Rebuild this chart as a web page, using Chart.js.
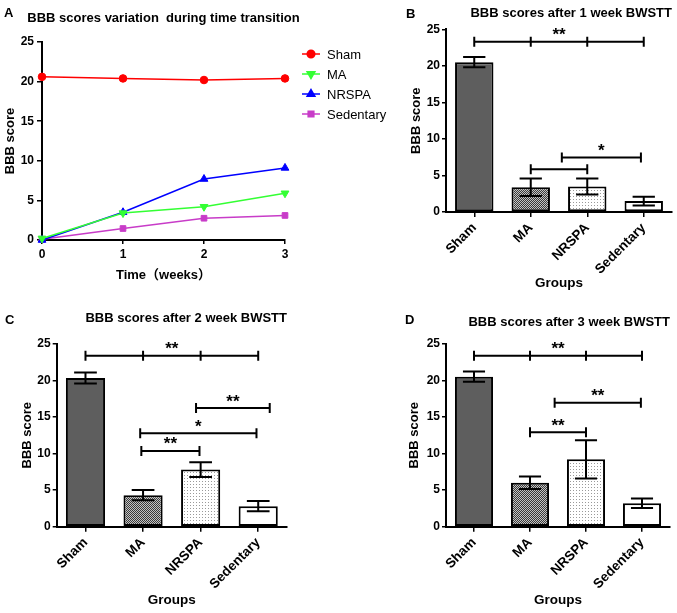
<!DOCTYPE html>
<html>
<head>
<meta charset="utf-8">
<script src="https://cdn.jsdelivr.net/npm/chart.js@4.4.1/dist/chart.umd.min.js"></script>
<style>
  body { margin: 0; background: #fff; }
  #wrap { position: relative; width: 677px; height: 613px; }
  canvas { position: absolute; }
  .tag { position: absolute; font: bold 13px 'Liberation Sans', Arial, sans-serif; line-height: 13px; color: #000; }
</style>
</head>
<body>
<div id="wrap">
  <canvas id="chartA" width="395" height="300" style="left:0;top:0"></canvas>
  <canvas id="chartB" width="282" height="300" style="left:395px;top:0"></canvas>
  <canvas id="chartC" width="340" height="313" style="left:0;top:300px"></canvas>
  <canvas id="chartD" width="282" height="313" style="left:395px;top:300px"></canvas>
  <div class="tag" style="left:4px;top:6px">A</div>
  <div class="tag" style="left:406px;top:7px">B</div>
  <div class="tag" style="left:5px;top:313px">C</div>
  <div class="tag" style="left:405px;top:313px">D</div>
</div>
<script>
const groups = ['Sham', 'MA', 'NRSPA', 'Sedentary'];
const weeks = [0, 1, 2, 3];

// panel A, mean score per week
const shamTime = [20.6, 20.4, 20.2, 20.4];
const maTime = [0.2, 3.4, 4.2, 5.9];
const nrspaTime = [0, 3.5, 7.7, 9.1];
const sedentaryTime = [0.1, 1.45, 2.75, 3.1];

// panels B-D, mean and error per group
const week1Means = [20.5, 3.4, 3.5, 1.5];
const week1Errors = [0.7, 1.2, 1.1, 0.6];
const week2Means = [20.3, 4.3, 7.8, 2.8];
const week2Errors = [0.75, 0.7, 1.0, 0.7];
const week3Means = [20.5, 6.0, 9.2, 3.2];
const week3Errors = [0.7, 0.85, 2.6, 0.65];

// significance brackets: [from group, to group, score, label, inner ticks]
const week1Marks = [[0, 3, 23.3, '**', [1, 2]], [1, 2, 5.85, ''], [1.55, 2.95, 7.45, '*']];
const week2Marks = [[0, 3, 23.35, '**', [1, 2]], [1.92, 3.2, 16.2, '**'], [0.95, 2.97, 12.75, '*'], [0.97, 1.98, 10.35, '**']];
const week3Marks = [[0, 3, 23.35, '**', [1, 2]], [1.44, 2.98, 16.95, '**'], [1, 2, 12.9, '**']];

const FONT = "'Liberation Sans', Arial, 'Noto Sans CJK SC', sans-serif";
Chart.defaults.font.family = FONT;
Chart.defaults.color = '#000';

function makePattern(size, bg, fg, cells) {
    const c = document.createElement('canvas');
    c.width = c.height = size;
    const g = c.getContext('2d');
    g.fillStyle = bg;
    g.fillRect(0, 0, size, size);
    g.fillStyle = fg;
    cells.forEach(([a, b]) => g.fillRect(a, b, 1, 1));
    return g.createPattern(c, 'repeat');
}

const barFills = [
    '#5e5e5e',
    makePattern(2, '#c4c4c4', '#3a3a3a', [[0, 0], [1, 1]]),
    makePattern(3, '#ffffff', '#9a9a9a', [[1, 1]]),
    '#ffffff'
];

const errorBars = {
    id: 'errorBars',
    afterDatasetsDraw(chart, args, opts) {
        const {ctx, scales: {y}} = chart;
        const means = chart.data.datasets[0].data;
        ctx.save();
        ctx.strokeStyle = '#000';
        ctx.lineWidth = 2;
        chart.getDatasetMeta(0).data.forEach((bar, i) => {
            const hi = y.getPixelForValue(means[i] + opts.errors[i]);
            const lo = y.getPixelForValue(means[i] - opts.errors[i]);
            const cap = bar.width * 0.29;
            ctx.beginPath();
            ctx.moveTo(bar.x, hi); ctx.lineTo(bar.x, lo);
            ctx.moveTo(bar.x - cap, hi); ctx.lineTo(bar.x + cap, hi);
            ctx.moveTo(bar.x - cap, lo); ctx.lineTo(bar.x + cap, lo);
            ctx.stroke();
        });
        ctx.restore();
    }
};

const brackets = {
    id: 'brackets',
    afterDatasetsDraw(chart, args, opts) {
        const {ctx, scales: {x, y}} = chart;
        ctx.save();
        ctx.strokeStyle = '#000';
        ctx.fillStyle = '#000';
        ctx.lineWidth = 2;
        ctx.font = 'bold 17px ' + FONT;
        ctx.textAlign = 'center';
        ctx.textBaseline = 'alphabetic';
        opts.marks.forEach(([a, b, v, label, inner]) => {
            const x1 = x.getPixelForValue(a), x2 = x.getPixelForValue(b), py = y.getPixelForValue(v);
            ctx.beginPath();
            ctx.moveTo(x1, py); ctx.lineTo(x2, py);
            [a, b].concat(inner || []).forEach(k => {
                const px = x.getPixelForValue(k);
                ctx.moveTo(px, py - 5); ctx.lineTo(px, py + 5);
            });
            ctx.stroke();
            if (label) ctx.fillText(label, (x1 + x2) / 2, py - 1.5);
        });
        ctx.restore();
    }
};

// title of panel A is wider than its plot, so draw it centred without squeezing
const wideTitle = {
    id: 'wideTitle',
    afterDraw(chart, args, opts) {
        const {ctx, chartArea} = chart;
        ctx.save();
        ctx.font = 'bold 13px ' + FONT;
        ctx.fillStyle = '#000';
        ctx.textAlign = 'center';
        ctx.textBaseline = 'middle';
        ctx.fillText(opts.text, (chartArea.left + chartArea.right) / 2, 18);
        ctx.restore();
    }
};

const lineLegend = {
    id: 'lineLegend',
    afterDraw(chart) {
        const {ctx, chartArea} = chart;
        ctx.save();
        ctx.font = '13px ' + FONT;
        ctx.textBaseline = 'middle';
        chart.data.datasets.forEach((ds, i) => {
            const ly = 54 + i * 20;
            const lx = chartArea.right + 17;
            ctx.strokeStyle = ds.borderColor;
            ctx.fillStyle = ds.backgroundColor;
            ctx.lineWidth = 1.5;
            ctx.beginPath();
            ctx.moveTo(lx, ly); ctx.lineTo(lx + 18, ly);
            ctx.stroke();
            Chart.helpers.drawPoint(ctx, {pointStyle: ds.pointStyle, rotation: ds.pointRotation || 0, radius: ds.pointRadius, borderWidth: 1}, lx + 9, ly);
            ctx.fillStyle = '#000';
            ctx.fillText(ds.label, lx + 25, ly + 1);
        });
        ctx.restore();
    }
};

function series(label, values, color, style, rot, r) {
    return {
        label: label,
        data: weeks.map((w, i) => ({x: w, y: values[i]})),
        borderColor: color,
        backgroundColor: color,
        borderWidth: 1.5,
        pointStyle: style,
        pointRotation: rot,
        pointRadius: r,
        pointBorderWidth: 1,
        clip: false
    };
}

new Chart(document.getElementById('chartA'), {
    type: 'line',
    data: {
        datasets: [
            series('Sham', shamTime, '#ff0000', 'circle', 0, 3.8),
            series('MA', maTime, '#33ff33', 'triangle', 180, 4.5),
            series('NRSPA', nrspaTime, '#0000ff', 'triangle', 0, 4.5),
            series('Sedentary', sedentaryTime, '#c83cc8', 'rect', 0, 4)
        ]
    },
    options: {
        responsive: false,
        animation: false,
        layout: {padding: {left: 0, top: 42, right: 110, bottom: 0}},
        plugins: {
            legend: {display: false},
            tooltip: {enabled: false},
            title: {display: false},
            wideTitle: {text: 'BBB scores variation  during time transition'}
        },
        scales: {
            x: {
                type: 'linear',
                min: 0,
                max: 3,
                ticks: {stepSize: 1, font: {size: 12, weight: 'bold'}, padding: 3},
                grid: {drawOnChartArea: false, tickLength: 4, color: '#000', lineWidth: 1.5},
                border: {color: '#000', width: 2},
                title: {display: true, text: 'Time（weeks）', font: {size: 13, weight: 'bold'}, padding: {top: 0, bottom: 17.2}},
                afterFit(s) { s.height = 60; s.paddingLeft = 0; s.paddingRight = 0; }
            },
            y: {
                min: 0,
                max: 25,
                ticks: {stepSize: 5, font: {size: 12, weight: 'bold'}, padding: 3},
                grid: {drawOnChartArea: false, tickLength: 5, color: '#000', lineWidth: 1.5},
                border: {color: '#000', width: 2},
                title: {display: true, text: 'BBB score', font: {size: 13, weight: 'bold'}, padding: {top: 2.2, bottom: 0}},
                afterFit(s) { s.width = 42; s.paddingTop = 0; s.paddingBottom = 0; }
            }
        }
    },
    plugins: [lineLegend, wideTitle]
});

function barChart(id, title, means, errors, marks, L) {
    return new Chart(document.getElementById(id), {
        type: 'bar',
        data: {
            labels: groups,
            datasets: [{
                data: means,
                backgroundColor: barFills,
                borderColor: '#000',
                borderWidth: 2,
                borderSkipped: false,
                barPercentage: 0.68,
                categoryPercentage: 1
            }]
        },
        options: {
            responsive: false,
            animation: false,
            layout: {padding: {left: 0, top: 0, right: L.right, bottom: 0}},
            plugins: {
                legend: {display: false},
                tooltip: {enabled: false},
                title: {
                    display: true,
                    text: title,
                    align: 'end',
                    fullSize: false,
                    font: {size: 13, weight: 'bold'},
                    padding: {top: L.tTop, bottom: L.tBot}
                },
                errorBars: {errors: errors},
                brackets: {marks: marks}
            },
            scales: {
                x: {
                    ticks: {minRotation: 45, maxRotation: 45, font: {size: 13.5, weight: 'bold'}, padding: 3},
                    grid: {drawOnChartArea: false, offset: false, tickLength: 5, color: '#000', lineWidth: 1.5},
                    border: {color: '#000', width: 2},
                    title: {display: true, text: 'Groups', font: {size: 13.5, weight: 'bold'}, padding: {top: 0, bottom: L.xPad}},
                    afterFit(s) { s.height = L.xH; s.paddingLeft = 0; s.paddingRight = 0; }
                },
                y: {
                    min: 0,
                    max: 25,
                    ticks: {stepSize: 5, font: {size: 12, weight: 'bold'}, padding: 2},
                    grid: {drawOnChartArea: false, tickLength: 4, color: '#000', lineWidth: 1.5},
                    border: {color: '#000', width: 2},
                    title: {display: true, text: 'BBB score', font: {size: 13, weight: 'bold'}, padding: {top: L.yPad, bottom: 0}},
                    afterFit(s) { s.width = L.yW; s.paddingTop = 0; s.paddingBottom = 0; }
                }
            }
        },
        plugins: [errorBars, brackets]
    });
}

barChart('chartB', 'BBB scores after 1 week BWSTT', week1Means, week1Errors, week1Marks,
    {right: 5, tTop: 5.2, tBot: 8.5, xH: 88, xPad: 8.6, yW: 51, yPad: 13.2});
barChart('chartC', 'BBB scores after 2 week BWSTT', week2Means, week2Errors, week2Marks,
    {right: 53, tTop: 10.2, tBot: 17.9, xH: 86.3, xPad: 4.9, yW: 56.7, yPad: 19.7});
barChart('chartD', 'BBB scores after 3 week BWSTT', week3Means, week3Errors, week3Marks,
    {right: 7, tTop: 14.2, tBot: 13.9, xH: 86.3, xPad: 4.9, yW: 51, yPad: 11.2});
</script>
</body>
</html>
